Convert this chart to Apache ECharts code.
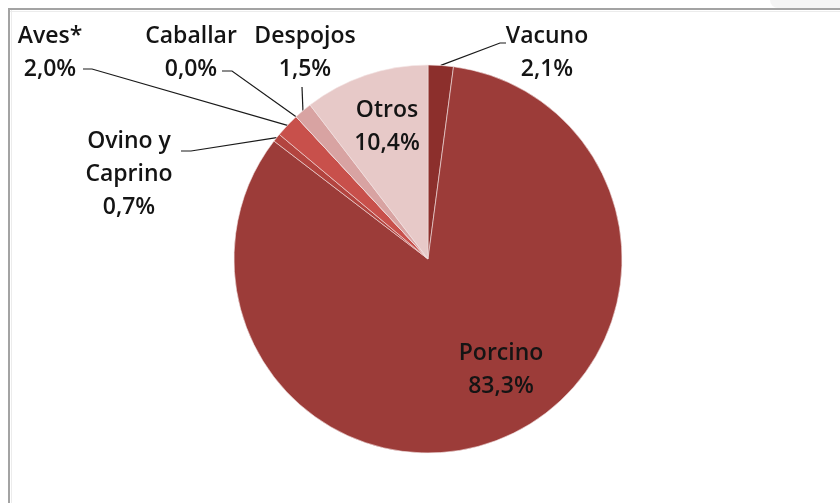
<!DOCTYPE html>
<html>
<head>
<meta charset="utf-8">
<style>
  html, body { margin: 0; padding: 0; background: #fff; }
  #chart { width: 840px; height: 503px; }
</style>
<script src="https://cdn.jsdelivr.net/npm/echarts@6/dist/echarts.min.js"></script>
</head>
<body>
<div id="chart"></div>
<script>
// Meat production shares (%), clockwise from 12 o'clock
const categories = ['Vacuno', 'Porcino', 'Ovino y Caprino', 'Aves*', 'Caballar', 'Despojos', 'Otros'];
const shares = [2.1, 83.3, 0.7, 2.0, 0.0, 1.5, 10.4];
const sliceColors = ['#8c2f2c', '#9c3c39', '#b3443f', '#c8504b', '#cc6a66', '#d8a3a2', '#e7c9c8'];

// Where each label block sits (centre of the text) and where its leader bends
const labelSpots = {
  'Vacuno':          { x: 547, y: 53,  bend: [[500, 43], [506, 43]] },
  'Porcino':         { x: 501, y: 370, inside: true },
  'Ovino y Caprino': { x: 129, y: 174, bend: [[191, 151], [181, 151]] },
  'Aves*':           { x: 50,  y: 53,  bend: [[92, 69], [83, 69]] },
  'Caballar':        { x: 191, y: 53,  bend: [[232, 71], [222, 71]] },
  'Despojos':        { x: 305, y: 53,  bend: [[302, 87], [302, 87]] },
  'Otros':           { x: 387, y: 127, inside: true }
};

const fmtPct = v => v.toFixed(1).replace('.', ',') + '%';

const chart = echarts.init(document.getElementById('chart'), null, { renderer: 'canvas' });

const data = categories.map((name, i) => {
  const spot = labelSpots[name];
  return {
    name: name,
    value: shares[i],
    itemStyle: { color: sliceColors[i] },
    label: spot.inside ? { position: 'inside' } : { position: 'outside' },
    labelLine: { show: !spot.inside }
  };
});

chart.setOption({
  animation: false,
  backgroundColor: '#ffffff',
  graphic: [
    { type: 'rect', shape: { x: 770, y: 0, width: 70, height: 8, r: [0, 0, 0, 8] }, style: { fill: '#f4f4f4' }, silent: true },
    { type: 'line', shape: { x1: 8, y1: 9, x2: 840, y2: 9 }, style: { stroke: '#a3a3a3', lineWidth: 2 }, silent: true },
    { type: 'line', shape: { x1: 9, y1: 8, x2: 9, y2: 503 }, style: { stroke: '#a3a3a3', lineWidth: 2 }, silent: true },
    { type: 'line', shape: { x1: 10, y1: 11.5, x2: 840, y2: 11.5 }, style: { stroke: '#ececec', lineWidth: 1 }, silent: true },
    { type: 'line', shape: { x1: 11.5, y1: 10, x2: 11.5, y2: 503 }, style: { stroke: '#ececec', lineWidth: 1 }, silent: true }
  ],
  series: [{
    type: 'pie',
    center: [428, 259],
    radius: 194,
    startAngle: 90,
    clockwise: true,
    minAngle: 0,
    avoidLabelOverlap: false,
    stillShowZeroSum: true,
    itemStyle: { borderColor: '#f4e4e4', borderWidth: 0.6 },
    label: {
      show: true,
      color: '#141414',
      fontFamily: '"Open Sans", sans-serif',
      fontWeight: 600,
      fontSize: 23,
      lineHeight: 33,
      align: 'center',
      formatter: p => p.name.replace('Ovino y ', 'Ovino y\n') + '\n' + fmtPct(p.value)
    },
    labelLine: {
      show: true,
      length: 10,
      length2: 10,
      lineStyle: { color: '#1a1a1a', width: 1.2 }
    },
    emphasis: { disabled: true },
    labelLayout: function (params) {
      const name = categories[params.dataIndex];
      const spot = labelSpots[name];
      const out = { x: spot.x, y: spot.y, align: 'center', verticalAlign: 'middle', hideOverlap: false, moveOverlap: false };
      if (!spot.inside && params.labelLinePoints) {
        const start = params.labelLinePoints[0];
        out.labelLinePoints = [start, spot.bend[0], spot.bend[1]];
      }
      return out;
    },
    data: data
  }]
});
</script>
</body>
</html>
